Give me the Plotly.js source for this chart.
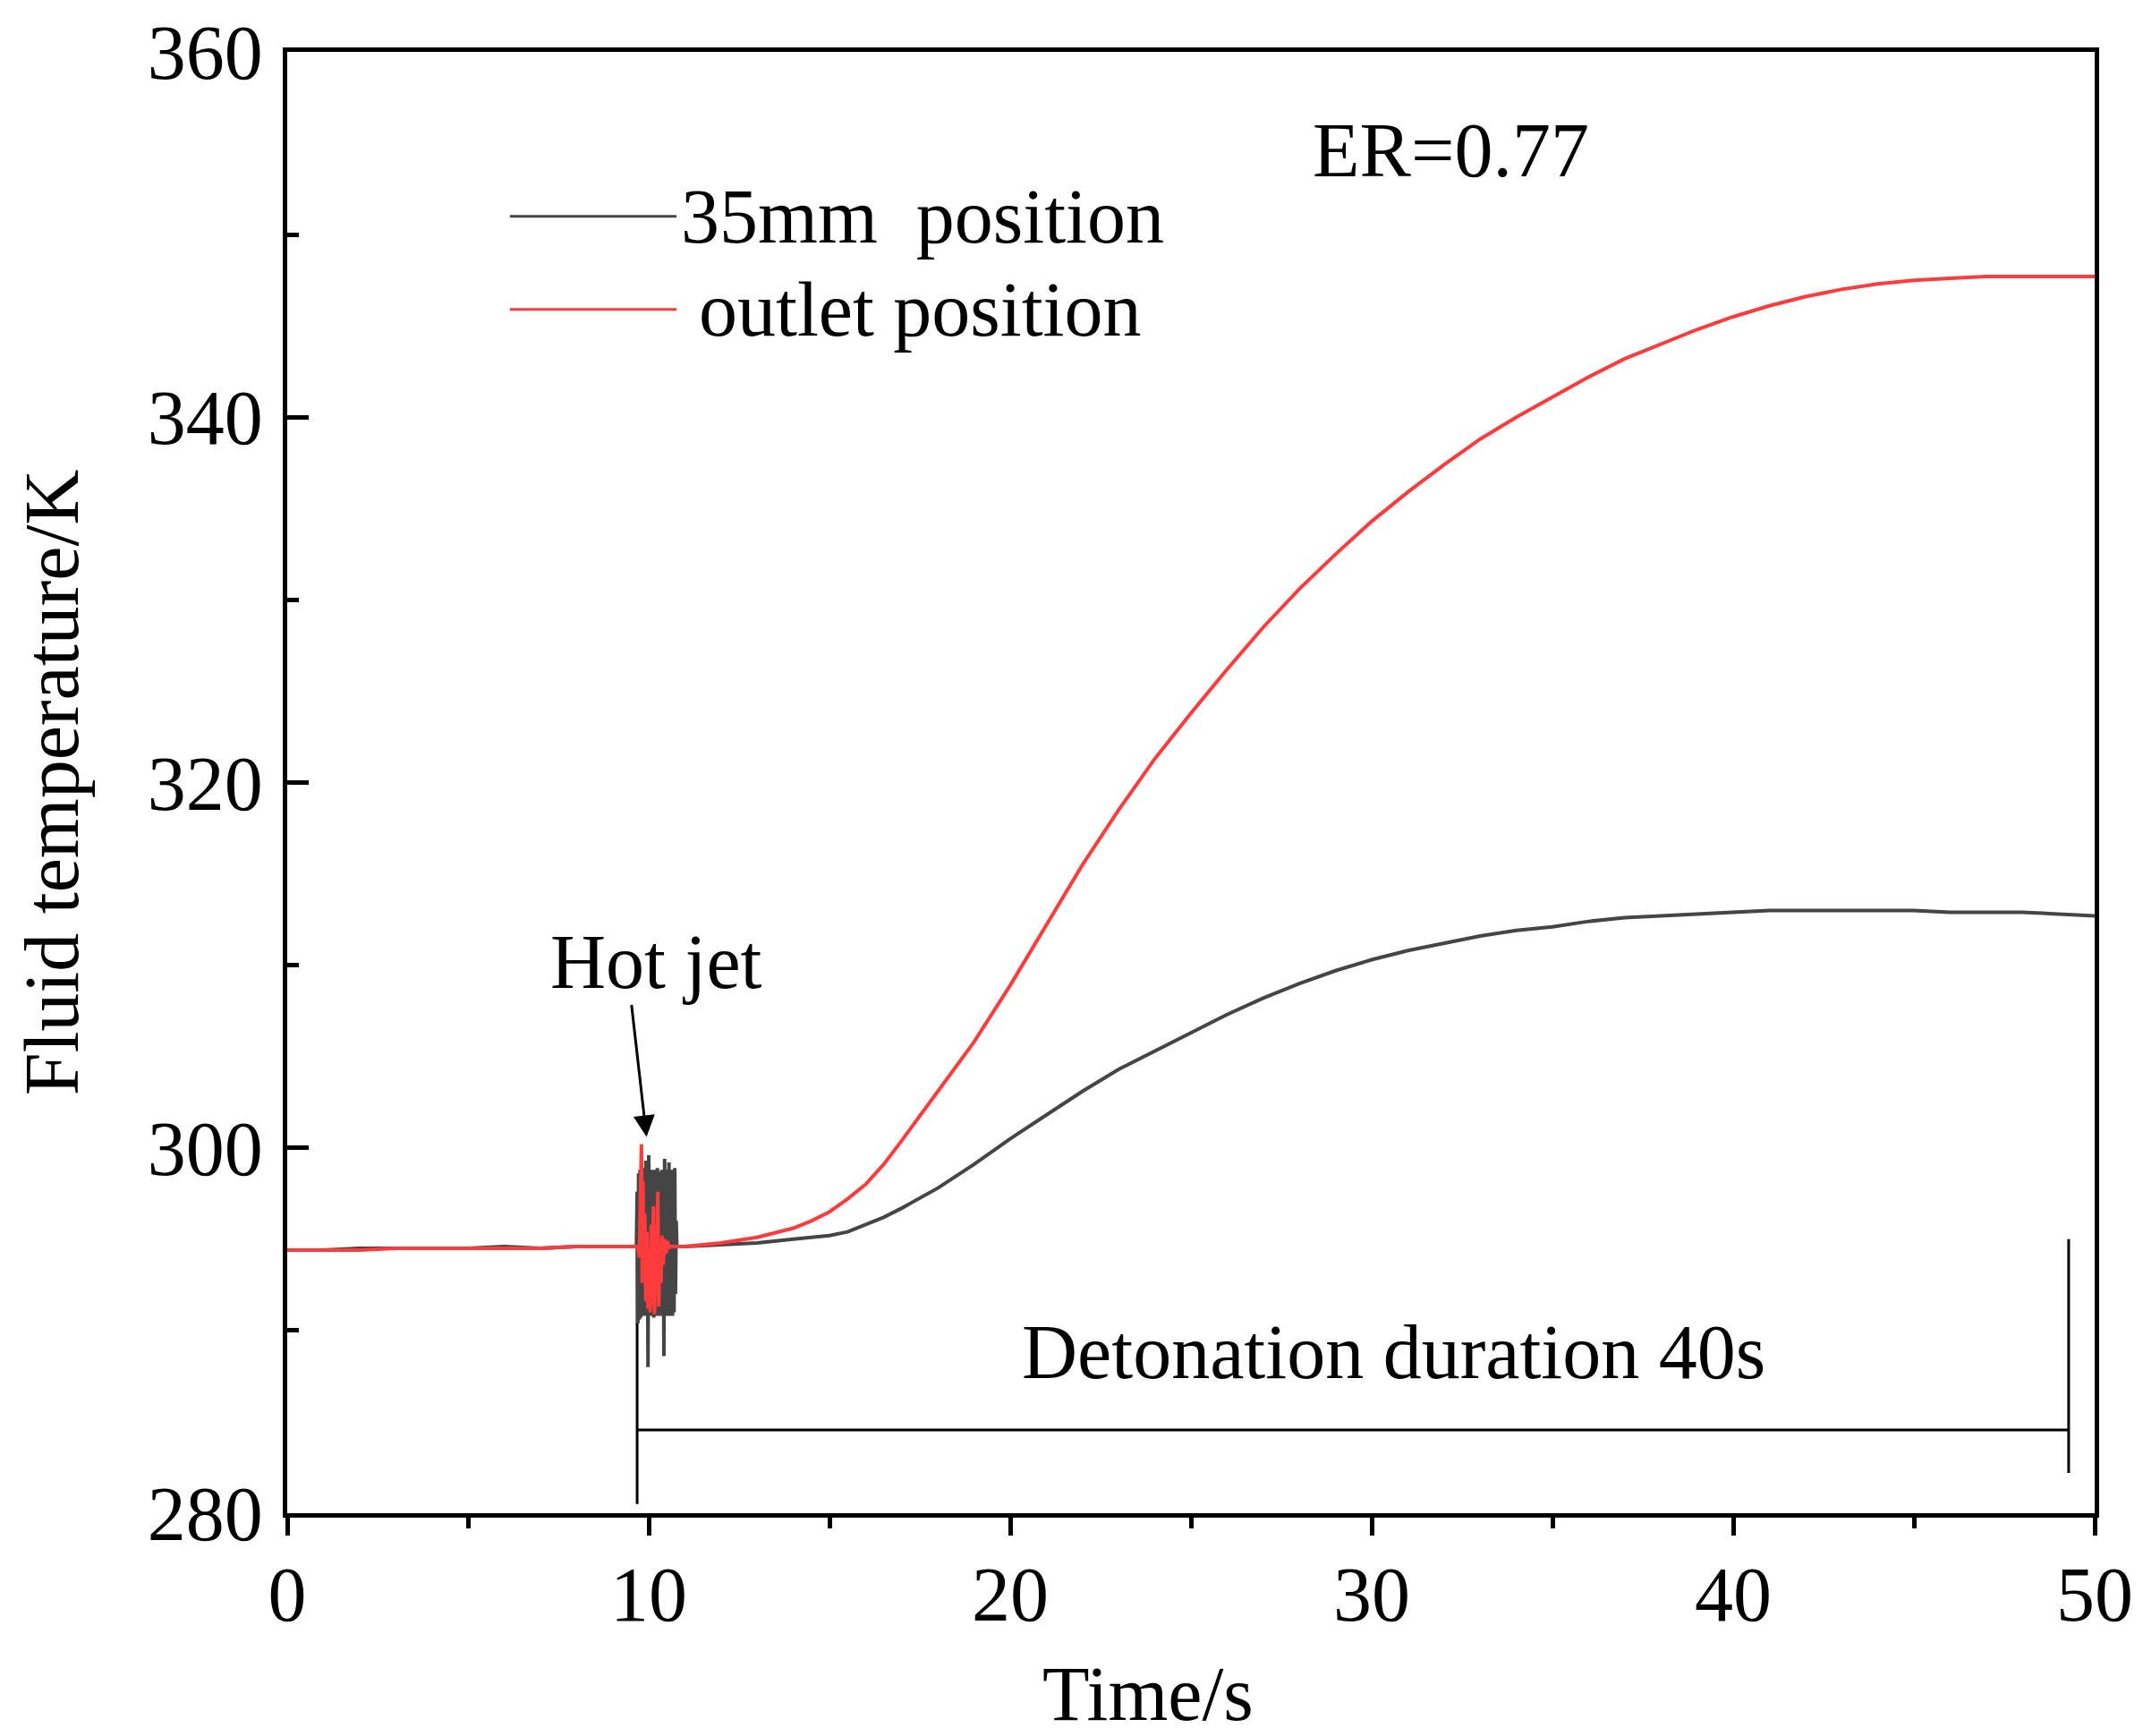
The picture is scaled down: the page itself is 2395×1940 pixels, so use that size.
<!DOCTYPE html>
<html>
<head>
<meta charset="utf-8">
<script src="https://cdn.plot.ly/plotly-3.0.1.min.js"></script>
<style>
  html, body { margin: 0; padding: 0; background: #fff; }
  #chart { width: 2395px; height: 1940px; }
</style>
</head>
<body>
<div id="chart"></div>
<script>
// time axis (s) and fluid temperature (K)
let timePre = [0, 1, 2, 3, 4, 5, 6, 7, 8, 9, 9.66];
let blackPre = [294.4, 294.4, 294.5, 294.5, 294.5, 294.5, 294.6, 294.5, 294.6, 294.6, 294.6];
let redPre = [294.4, 294.4, 294.4, 294.5, 294.5, 294.5, 294.5, 294.5, 294.6, 294.6, 294.6];

// hot jet burst, 35mm position
let timeBurstBlack = [9.68, 9.70, 9.72, 9.74, 9.76, 9.78, 9.80, 9.82, 9.84, 9.86, 9.88, 9.90, 9.92, 9.94,
  9.96, 9.98, 10.00, 10.02, 10.04, 10.06, 10.08, 10.10, 10.12, 10.14, 10.16, 10.18, 10.20, 10.22,
  10.24, 10.26, 10.28, 10.30, 10.32, 10.34, 10.36, 10.38, 10.40, 10.42, 10.44, 10.46, 10.48, 10.50,
  10.52, 10.54, 10.56, 10.58, 10.60, 10.62, 10.64, 10.66, 10.68, 10.70, 10.72, 10.74, 10.76, 10.78];
let blackBurst = [297.6, 290.4, 298.6, 290.6, 298.8, 290.7, 298.7, 290.8, 298.9, 290.8, 298.6, 290.9,
  299.3, 290.8, 298.8, 288.0, 299.6, 290.9, 298.7, 290.8, 298.8, 290.9, 298.6, 290.7, 298.8, 290.8,
  298.7, 290.9, 298.9, 290.8, 298.6, 290.8, 298.7, 290.9, 298.8, 290.8, 298.7, 288.6, 299.4, 290.9,
  298.8, 290.8, 298.6, 290.9, 299.2, 290.8, 298.7, 290.9, 298.8, 290.8, 298.7, 291.0, 298.9, 292.0,
  296.0, 294.6];

// hot jet burst, outlet position
let timeBurstRed = [9.70, 9.74, 9.78, 9.80, 9.82, 9.84, 9.86, 9.89, 9.92, 9.95, 9.98, 10.01, 10.04,
  10.07, 10.10, 10.13, 10.16, 10.19, 10.22, 10.25, 10.28, 10.31, 10.34, 10.37, 10.40, 10.44, 10.48,
  10.52, 10.56, 10.60];
let redBurst = [294.6, 294.0, 299.0, 300.2, 292.6, 298.2, 293.2, 296.4, 291.6, 295.4, 291.2, 294.4,
  291.0, 295.8, 291.4, 296.8, 290.9, 294.2, 292.4, 297.6, 291.3, 294.8, 292.6, 295.2, 293.6, 295.0,
  294.2, 294.9, 294.5, 294.6];

// slow rise after the jet
let timeRise = [11, 12, 13, 14, 14.5, 15, 15.5, 16, 16.5, 17, 18, 19, 20, 21, 22, 23, 24, 25, 26, 27, 28, 29, 30,
  31, 32, 33, 34, 35, 36, 37, 38, 39, 40, 41, 42, 43, 44, 45, 46, 47, 48, 49, 50];
let blackRise = [294.6, 294.7, 294.8, 295.0, 295.1, 295.2, 295.4, 295.8, 296.2, 296.7, 297.8, 299.1,
  300.5, 301.8, 303.1, 304.3, 305.3, 306.3, 307.3, 308.2, 309.0, 309.7, 310.3, 310.8, 311.2, 311.6,
  311.9, 312.1, 312.4, 312.6, 312.7, 312.8, 312.9, 313.0, 313.0, 313.0, 313.0, 313.0, 312.9, 312.9,
  312.9, 312.8, 312.7];
let redRise = [294.6, 294.8, 295.1, 295.6, 296.0, 296.5, 297.2, 298.0, 299.1, 300.4, 303.1, 305.8,
  308.9, 312.2, 315.5, 318.5, 321.3, 323.8, 326.2, 328.5, 330.6, 332.5, 334.3, 335.9, 337.4, 338.8,
  340.0, 341.1, 342.2, 343.2, 344.0, 344.8, 345.5, 346.1, 346.6, 347.0, 347.3, 347.5, 347.6, 347.7,
  347.7, 347.7, 347.7];

let xTicks = [0, 10, 20, 30, 40, 50];
let yTicks = [280, 300, 320, 340, 360];

let blackColor = '#454545';
let redColor = '#ff3b3b';
let fontFamily = '"Liberation Serif", "Times New Roman", serif';

let blackTrace = {
    x: timePre.concat(timeBurstBlack, timeRise),
    y: blackPre.concat(blackBurst, blackRise),
    mode: 'lines',
    name: '35mm  position',
    line: {color: blackColor, width: 4}
};
let redTrace = {
    x: timePre.concat(timeBurstRed, timeRise),
    y: redPre.concat(redBurst, redRise),
    mode: 'lines',
    name: 'outlet position',
    line: {color: redColor, width: 4}
};

let axisStyle = {
    showgrid: false,
    zeroline: false,
    showline: true,
    linecolor: '#000',
    linewidth: 5,
    mirror: true,
    tickcolor: '#000',
    tickwidth: 5,
    tickfont: {family: fontFamily, size: 86, color: '#000'}
};

let layout = {
    width: 2395,
    height: 1940,
    margin: {l: 321, r: 54, t: 58, b: 249},
    paper_bgcolor: '#fff',
    plot_bgcolor: '#fff',
    showlegend: false,
    font: {family: fontFamily, color: '#000'},
    xaxis: Object.assign({}, axisStyle, {
        range: [0, 50],
        tickvals: xTicks,
        ticktext: xTicks.map(String),
        ticks: 'outside',
        ticklen: 20,
        ticklabelstandoff: -8,
        minor: {tickvals: [5, 15, 25, 35, 45], ticks: 'outside', ticklen: 12, tickwidth: 5, tickcolor: '#000'}
    }),
    yaxis: Object.assign({}, axisStyle, {
        range: [280, 360],
        tickvals: yTicks,
        ticktext: yTicks.map(String),
        ticks: 'inside',
        ticklen: 24,
        ticklabelstandoff: 5,
        minor: {tickvals: [290, 310, 330, 350], ticks: 'inside', ticklen: 13, tickwidth: 5, tickcolor: '#000'},
        title: {text: 'Fluid temperature/K', font: {family: fontFamily, size: 86}, standoff: 50}
    }),
    shapes: [
        // legend samples
        {type: 'line', xref: 'x', yref: 'y', x0: 6.16, x1: 10.77, y0: 351.0, y1: 351.0, line: {color: blackColor, width: 3}},
        {type: 'line', xref: 'x', yref: 'y', x0: 6.16, x1: 10.77, y0: 345.9, y1: 345.9, line: {color: redColor, width: 3}},
        // detonation duration bracket
        {type: 'line', xref: 'x', yref: 'y', x0: 9.68, x1: 9.68, y0: 280.5, y1: 295.0, layer: 'below', line: {color: '#000', width: 3}},
        {type: 'line', xref: 'x', yref: 'y', x0: 9.68, x1: 49.28, y0: 284.55, y1: 284.55, line: {color: '#000', width: 3}},
        {type: 'line', xref: 'x', yref: 'y', x0: 49.28, x1: 49.28, y0: 282.2, y1: 295.0, line: {color: '#000', width: 3}}
    ],
    annotations: [
        {x: 10.85, y: 351.0, xref: 'x', yref: 'y', text: '35mm\u00a0\u00a0position', showarrow: false,
         xanchor: 'left', yanchor: 'middle', font: {family: fontFamily, size: 86}},
        {x: 11.34, y: 345.9, xref: 'x', yref: 'y', text: 'outlet position', showarrow: false,
         xanchor: 'left', yanchor: 'middle', font: {family: fontFamily, size: 86}},
        {x: 32.2, y: 354.6, xref: 'x', yref: 'y', text: 'ER=0.77', showarrow: false,
         font: {family: fontFamily, size: 86}},
        {x: 10.2, y: 310.2, xref: 'x', yref: 'y', text: 'Hot jet', showarrow: false,
         font: {family: fontFamily, size: 86}},
        {x: 9.94, y: 300.6, xref: 'x', yref: 'y', ax: 9.52, ay: 307.9, axref: 'x', ayref: 'y',
         text: '', showarrow: true, arrowhead: 2, arrowsize: 1.6, arrowwidth: 3, arrowcolor: '#000'},
        {x: 30.6, y: 288.8, xref: 'x', yref: 'y', text: 'Detonation duration 40s', showarrow: false,
         font: {family: fontFamily, size: 86}},
        // x axis title sits a little left of centre in the original
        {x: 23.8, y: -0.124, xref: 'x', yref: 'paper', text: 'Time/s', showarrow: false,
         yanchor: 'middle', font: {family: fontFamily, size: 86}}
    ]
};

Plotly.newPlot('chart', [blackTrace, redTrace], layout, {staticPlot: true});
</script>
</body>
</html>
